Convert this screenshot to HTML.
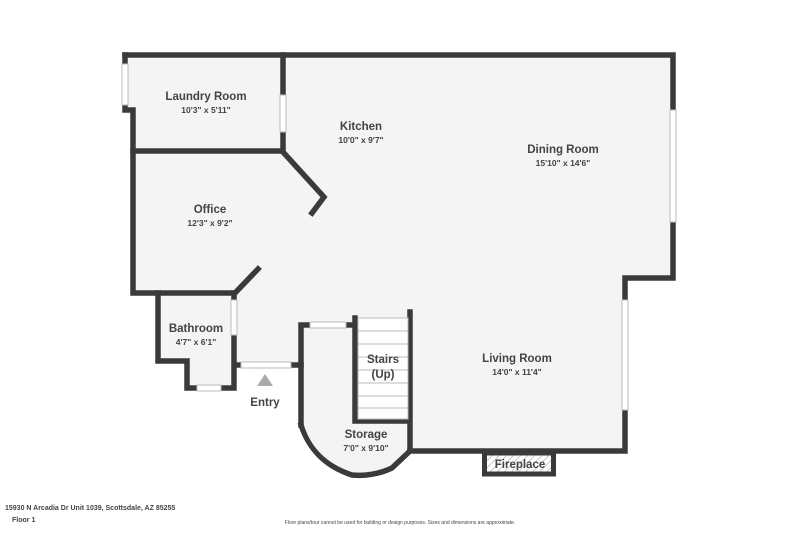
<!DOCTYPE html>
<html><head><style>
body{margin:0;background:#fff;width:800px;height:533px;overflow:hidden}
svg{display:block}
text{font-family:"Liberation Sans",sans-serif;fill:#444;text-anchor:middle}
.n{font-size:11.5px;font-weight:bold}
.d{font-size:8.5px;font-weight:bold}
</style></head><body>
<svg width="800" height="533" viewBox="0 0 800 533">
<defs><pattern id="h" width="5" height="5" patternUnits="userSpaceOnUse" patternTransform="rotate(45)"><line x1="0" y1="0" x2="0" y2="5" stroke="#999" stroke-width="1"/></pattern></defs>
<path d="M125,55 L676,55 L676,278 L625,278 L625,451 L410,451 Q395,475 360,476 Q315,470 301,425 L301,365 L235,365 L235,389 L186,389 L186,362 L158,362 L158,293 L133,293 L133,108 L125,108 Z" fill="#f4f4f4"/>
<g stroke="#3a3a3a" stroke-width="5.5" fill="none" stroke-linecap="square">
<!-- outer top/right -->
<path d="M125,55 L673,55 L673,110 M673,222 L673,278 L625,278 L625,300 M625,410 L625,451 L410,451"/>
<!-- laundry -->
<path d="M125,55 L125,64 M125,105 L125,110 L133,110 L133,293 L235,293 L258,269"/>
<path d="M133,151 L283,151 L283,132 M283,95 L283,55"/>
<path d="M283,152 L324,197 L312,213"/>
<!-- bathroom -->
<path d="M158,293 L158,361 L187,361 L187,388 L197,388 M221,388 L234,388 L234,335 M234,300 L234,293"/>
<path d="M236,365 L241,365 M291,365 L301,365"/>
<!-- storage -->
<path d="M301,425 L301,325 L310,325 M346,325 L355,325"/>
<path d="M301,425 Q312,462 352,475 Q373,477 392,468 L410,451 L410,312"/>
<path d="M355,318 L355,421 L408,421"/>
</g>
<!-- windows -->
<g stroke="#bbb" stroke-width="1" fill="#fff">
<rect x="122" y="64" width="6" height="41"/>
<rect x="280" y="95" width="6" height="37"/>
<rect x="670" y="110" width="6" height="112"/>
<rect x="622" y="300" width="6" height="110"/>
<rect x="231" y="300" width="6" height="35"/>
<rect x="197" y="385" width="24" height="6"/>
<rect x="241" y="362" width="50" height="6"/>
<rect x="310" y="322" width="36" height="6"/>
</g>
<!-- stairs -->
<g stroke="#bbb" stroke-width="1">
<rect x="358" y="318" width="50" height="101" fill="#fff"/>
<line x1="358" y1="331" x2="408" y2="331"/><line x1="358" y1="344" x2="408" y2="344"/><line x1="358" y1="357" x2="408" y2="357"/><line x1="358" y1="370" x2="408" y2="370"/><line x1="358" y1="383" x2="408" y2="383"/><line x1="358" y1="396" x2="408" y2="396"/><line x1="358" y1="408" x2="408" y2="408"/>
</g>
<!-- fireplace -->
<rect x="484.5" y="453" width="69" height="21" fill="url(#h)" stroke="#3a3a3a" stroke-width="5"/>
<polygon points="265,374 257,386 273,386" fill="#aaa"/>
<text class="n" x="206" y="100">Laundry Room</text><text class="d" x="206" y="113">10'3" x 5'11"</text>
<text class="n" x="361" y="130">Kitchen</text><text class="d" x="361" y="143">10'0" x 9'7"</text>
<text class="n" x="563" y="153">Dining Room</text><text class="d" x="563" y="166">15'10" x 14'6"</text>
<text class="n" x="210" y="213">Office</text><text class="d" x="210" y="226">12'3" x 9'2"</text>
<text class="n" x="196" y="332">Bathroom</text><text class="d" x="196" y="345">4'7" x 6'1"</text>
<text class="n" x="383" y="363">Stairs</text><text class="n" x="383" y="378">(Up)</text>
<text class="n" x="517" y="362">Living Room</text><text class="d" x="517" y="375">14'0" x 11'4"</text>
<text class="n" x="366" y="438">Storage</text><text class="d" x="366" y="451">7'0" x 9'10"</text>
<text class="n" x="265" y="406">Entry</text>
<text class="n" x="520" y="468">Fireplace</text>
<text x="5" y="510" style="font-size:7px;text-anchor:start;font-weight:bold">15930 N Arcadia Dr Unit 1039, Scottsdale, AZ 85255</text>
<text x="12" y="522" style="font-size:7px;text-anchor:start;font-weight:bold">Floor 1</text>
<text x="400" y="524" style="font-size:5px">Floor plans/tour cannot be used for building or design purposes. Sizes and dimensions are approximate.</text>
</svg>
</body></html>
